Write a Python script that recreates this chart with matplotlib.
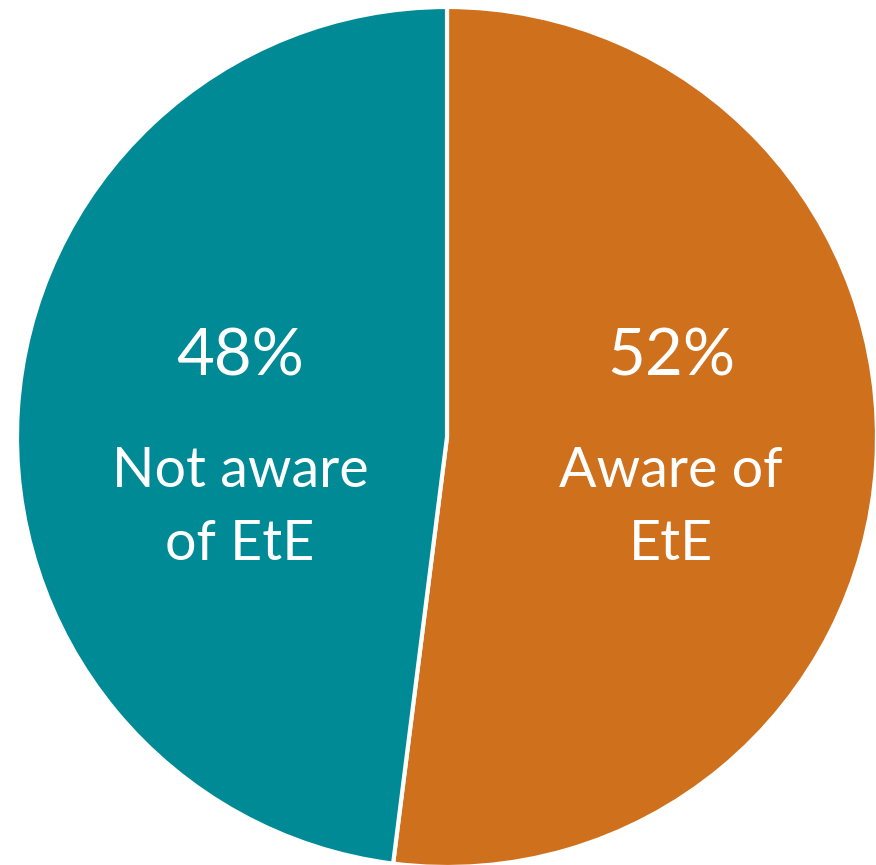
import matplotlib
matplotlib.use("Agg")
import matplotlib.pyplot as plt

# awareness split
labels = ["Aware of\nEtE", "Not aware\nof EtE"]
shares = [52, 48]
colors = ["#CF701D", "#008A96"]

plt.rcParams["font.family"] = ["Lato", "DejaVu Sans"]

W, H = 876, 865
fig = plt.figure(figsize=(W / 100, H / 100), dpi=100)
ax = fig.add_axes([0, 0, 1, 1])

# pie centre / radius in pixels
cx, cy, r = 447, 437, 430

wedges, _ = ax.pie(shares, colors=colors, startangle=90, counterclock=False,
                   radius=1, center=(0, 0),
                   wedgeprops=dict(edgecolor="white", linewidth=3))

ax.set_xlim(-cx / r, (W - cx) / r)
ax.set_ylim((cy - H) / r, cy / r)
ax.set_aspect("auto")
ax.axis("off")


def px(x, y):
    return (x - cx) / r, (cy - y) / r


# text positions (x centre, baseline of percentage, baseline of first label line)
spots = [(671, 376, 487), (240, 376, 487)]
for lab, val, (tx, pb, lb) in zip(labels, shares, spots):
    ax.text(*px(tx, pb), f"{val}%", color="white", fontsize=47,
            ha="center", va="baseline")
    first, second = lab.split("\n")
    ax.text(*px(tx, lb), first, color="white", fontsize=40,
            ha="center", va="baseline")
    ax.text(*px(tx, lb + 73), second, color="white", fontsize=40,
            ha="center", va="baseline")

fig.savefig("out.png", dpi=100)
